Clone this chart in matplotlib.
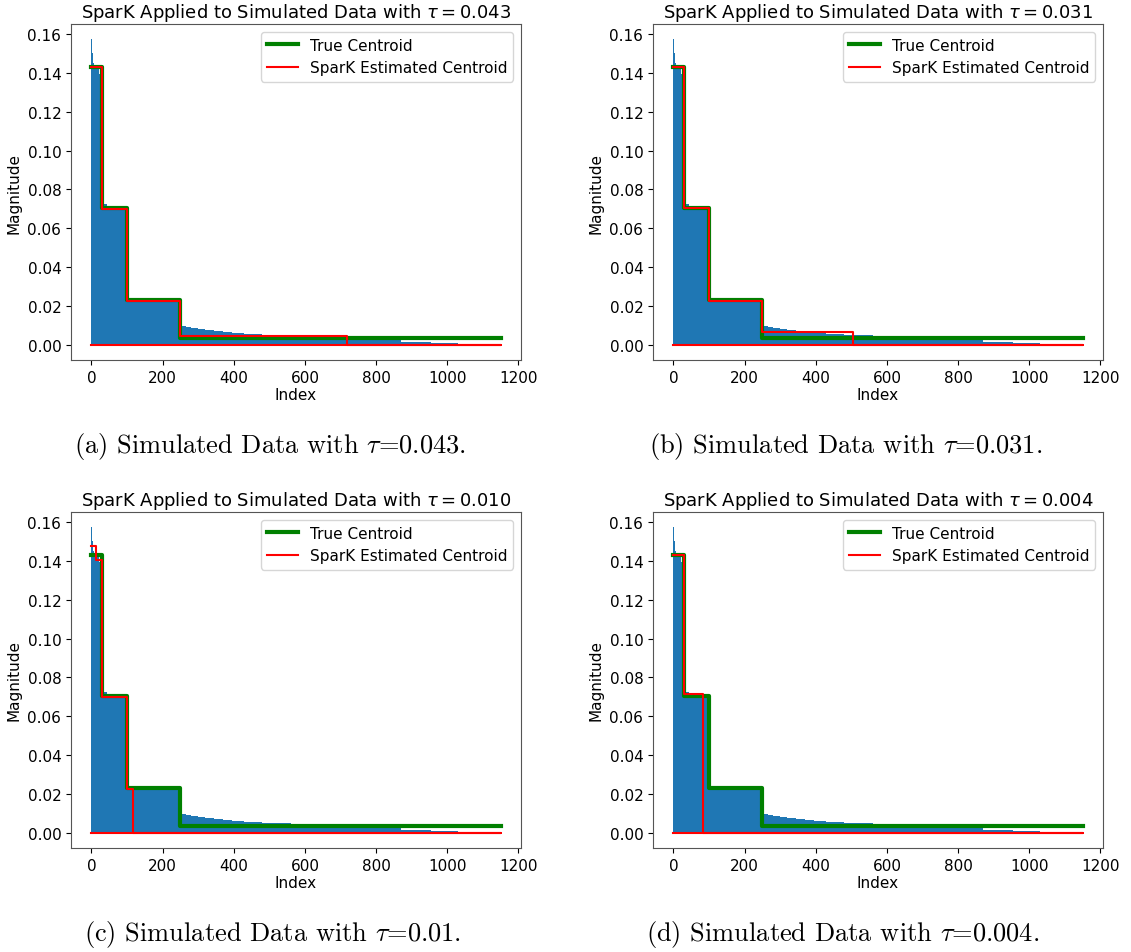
import numpy as np
import matplotlib
matplotlib.use("Agg")
import matplotlib.pyplot as plt

plt.rcParams['mathtext.fontset'] = 'cm'

data_edges = [0, 1, 3, 5, 8, 11, 20, 30, 45, 80, 100, 180, 250, 255, 265, 280, 300, 320, 345,
              370, 395, 430, 480, 560, 785, 870, 955, 1030]
data_vals = [0.1574, 0.1505, 0.147, 0.145, 0.1435, 0.142, 0.1395, 0.0725, 0.071, 0.0695,
             0.0228, 0.0222, 0.0108, 0.0098, 0.0092, 0.0086, 0.0080, 0.0075, 0.0070,
             0.0064, 0.0059, 0.0054, 0.0048, 0.0040, 0.0024, 0.0015, 0.0009]

# true centroid
true_edges = [0, 30, 100, 250, 1150]
true_vals = [0.1432, 0.0705, 0.0228, 0.0035]

# SparK estimates per tau
taus = ["0.043", "0.031", "0.010", "0.004"]
caption_taus = ["0.043", "0.031", "0.01", "0.004"]
letters = ["a", "b", "c", "d"]
est_edges = [
    [0, 30, 100, 250, 717, 1150],
    [0, 30, 100, 250, 505, 1150],
    [0, 12, 30, 100, 118, 1150],
    [0, 30, 83, 1150],
]
est_vals = [
    [0.1432, 0.0700, 0.0225, 0.0045, 0.0],
    [0.1432, 0.0705, 0.0225, 0.0063, 0.0],
    [0.148, 0.1405, 0.0700, 0.0226, 0.0],
    [0.1432, 0.0715, 0.0],
]

W, H = 1131, 953
fig = plt.figure(figsize=(W / 100, H / 100), dpi=100)

# axes boxes in pixels: left, top
boxes = [(71, 25), (653, 25), (71, 513), (653, 513)]
caption_pos = [(270, 447), (846, 447), (273, 935), (843, 935)]
aw, ah = 450, 336


def steps(edges, vals):
    x = np.repeat(edges, 2)[1:-1]
    y = np.repeat(vals, 2)
    return x, y


for i in range(4):
    left, top = boxes[i]
    ax = fig.add_axes([left / W, (H - top - ah) / H, aw / W, ah / H])

    ax.stairs(data_vals, data_edges, fill=True, color="#1f77b4", zorder=1)

    tx, ty = steps(true_edges, true_vals)
    ax.plot(tx, ty, color="green", lw=3, label="True Centroid", zorder=2)

    # estimate: step line, then back along zero to the start
    ex, ey = steps(est_edges[i], est_vals[i])
    ex = np.concatenate([ex, [est_edges[i][0]]])
    ey = np.concatenate([ey, [0.0]])
    ax.plot(ex, ey, color="red", lw=1.5, label="SparK Estimated Centroid", zorder=3)

    ax.set_xlim(-57.5, 1207.5)
    ax.set_ylim(-0.0079, 0.1653)
    ax.set_xticks(np.arange(0, 1201, 200))
    ax.set_yticks(np.arange(0, 0.161, 0.02))
    ax.set_yticklabels(["%.2f" % v for v in np.arange(0, 0.161, 0.02)])
    ax.tick_params(labelsize=11)
    for s in ax.spines.values():
        s.set_color("#555555")

    ax.set_xlabel("Index", fontsize=11, labelpad=2)
    ax.set_ylabel("Magnitude", fontsize=11, labelpad=4)
    ax.set_title(r"SparK Applied to Simulated Data with $\tau = $" + taus[i], fontsize=13,
                 pad=5, math_fontfamily="dejavusans")
    ax.legend(loc="upper right", fontsize=11)

    cx, cy = caption_pos[i]
    fig.text(cx / W, 1 - cy / H, "(%s) Simulated Data with $\\tau$=%s." % (letters[i], caption_taus[i]),
             family="cmr10", fontsize=19, ha="center", va="center")

fig.savefig("out.png", dpi=100)
